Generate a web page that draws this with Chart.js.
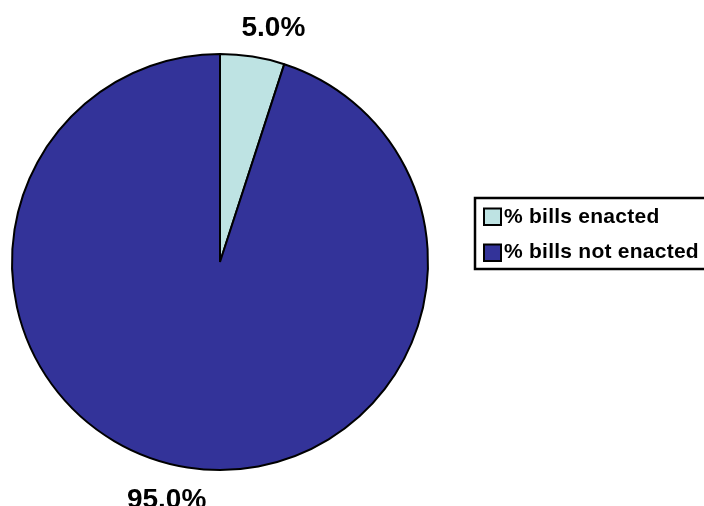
<!DOCTYPE html>
<html>
<head>
<meta charset="utf-8">
<script src="https://cdn.jsdelivr.net/npm/chart.js@4/dist/chart.umd.min.js"></script>
<style>
  html, body { margin: 0; padding: 0; background: #fff; }
  #wrap { width: 704px; height: 506px; position: relative; }
</style>
</head>
<body>
<div id="wrap"><canvas id="c" width="704" height="506"></canvas></div>
<script>
// Share of bills by outcome
const categories = ['% bills enacted', '% bills not enacted'];
const shares = [5.0, 95.0];
const sliceColors = ['#BEE3E3', '#333399'];

const FONT = '"Liberation Sans", Arial, Helvetica, sans-serif';

// Percentage labels placed just outside each slice
const sliceLabels = {
  id: 'sliceLabels',
  afterDatasetsDraw(chart) {
    const ctx = chart.ctx;
    const meta = chart.getDatasetMeta(0);
    const size = 28;
    ctx.save();
    ctx.font = 'bold ' + size + 'px ' + FONT;
    ctx.fillStyle = '#000';
    ctx.textAlign = 'center';
    ctx.textBaseline = 'alphabetic';
    meta.data.forEach((arc, i) => {
      const p = arc.getProps(['x', 'y', 'startAngle', 'endAngle', 'outerRadius'], true);
      const mid = (p.startAngle + p.endAngle) / 2;
      const r = p.outerRadius + 31;
      const dx = Math.cos(mid), dy = Math.sin(mid);
      const x = p.x + dx * r + Math.sign(dx) * 16;
      const y = p.y + dy * r + size * 0.716 / 2;
      ctx.fillText(shares[i].toFixed(1) + '%', x, y);
    });
    ctx.restore();
  }
};

// Boxed legend to the right of the pie
const boxLegend = {
  id: 'boxLegend',
  afterDraw(chart) {
    const ctx = chart.ctx;
    const left = 475, top = 198, bottom = 269;
    ctx.save();
    ctx.lineWidth = 2.5;
    ctx.strokeStyle = '#000';
    ctx.strokeRect(left, top, chart.width - left + 4, bottom - top);
    ctx.font = 'bold 21px ' + FONT;
    ctx.letterSpacing = '0.25px';
    ctx.textBaseline = 'alphabetic';
    ctx.textAlign = 'left';
    categories.forEach((label, i) => {
      const sy = 208.5 + i * 36;
      ctx.fillStyle = sliceColors[i];
      ctx.fillRect(484, sy, 17, 16.5);
      ctx.lineWidth = 2;
      ctx.strokeStyle = '#000';
      ctx.strokeRect(484, sy, 17, 16.5);
      ctx.fillStyle = '#000';
      ctx.fillText(label, 504, 222.5 + i * 35.5);
    });
    ctx.restore();
  }
};

new Chart(document.getElementById('c'), {
  type: 'pie',
  data: {
    labels: categories,
    datasets: [{
      data: shares,
      backgroundColor: sliceColors,
      borderColor: '#000',
      borderWidth: 2
    }]
  },
  options: {
    responsive: false,
    animation: false,
    layout: { padding: { left: 11, top: 53, right: 275, bottom: 35 } },
    plugins: {
      legend: { display: false },
      tooltip: { enabled: false }
    }
  },
  plugins: [sliceLabels, boxLegend]
});
</script>
</body>
</html>
